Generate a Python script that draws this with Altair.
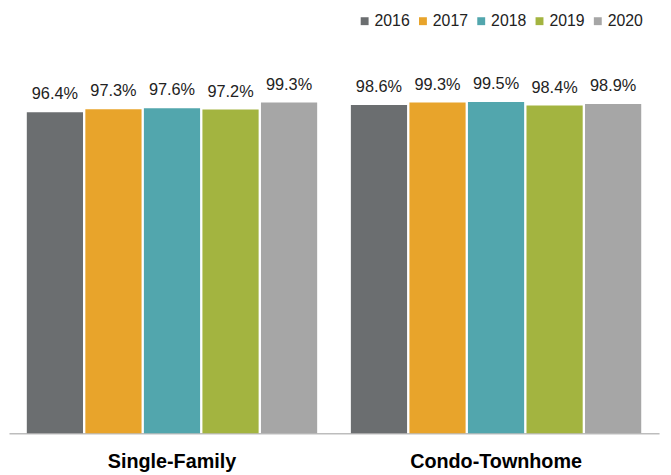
import altair as alt
import pandas as pd

categories = ["Single-Family", "Condo-Townhome"]
years = ["2016", "2017", "2018", "2019", "2020"]
single_family = [96.4, 97.3, 97.6, 97.2, 99.3]
condo_townhome = [98.6, 99.3, 99.5, 98.4, 98.9]
colors = ["#6b6e70", "#e8a42b", "#52a6ad", "#a3b440", "#a6a6a6"]

rows = []
for cat, vals in zip(categories, [single_family, condo_townhome]):
    for y, v in zip(years, vals):
        rows.append({"type": cat, "year": y, "value": v, "label": f"{v:.1f}%"})
df = pd.DataFrame(rows)

FONT = "Liberation Sans"

x = alt.X("type:N", sort=categories, title=None,
          scale=alt.Scale(paddingInner=0.104, paddingOuter=0.055),
          axis=alt.Axis(labelAngle=0, labelFontSize=20, labelFontWeight="bold",
                        labelColor="#000000", labelFont=FONT, labelPadding=19,
                        ticks=False, domainColor="#bdbdbd", domainWidth=1.5))
xo = alt.XOffset("year:N", sort=years, scale=alt.Scale(paddingInner=0.04))
y = alt.Y("value:Q", scale=alt.Scale(domain=[0, 100], nice=False), axis=None)

base = alt.Chart(df).encode(x=x, xOffset=xo, y=y)

bars = base.mark_bar().encode(
    color=alt.Color("year:N", sort=years,
                    scale=alt.Scale(domain=years, range=colors),
                    legend=alt.Legend(orient="none", direction="horizontal",
                                      legendX=352, legendY=-88, title=None,
                                      symbolType="square", symbolSize=64,
                                      symbolStrokeWidth=0,
                                      labelFontSize=16, labelFont=FONT,
                                      labelColor="#222222", labelOffset=2,
                                      columnPadding=5))
)

labels = base.mark_text(fontSize=16.5, font=FONT, color="#222222",
                        baseline="middle", dy=-18).encode(text="label:N")

chart = alt.layer(bars, labels).properties(
    width=658, height=337,
    autosize=alt.AutoSizeParams(type="none"),
    padding={"left": 1, "top": 90.5, "right": 4, "bottom": 39.5},
).configure_view(stroke=None)

chart.save("out.html", embed_options={"renderer": "svg", "actions": False})
